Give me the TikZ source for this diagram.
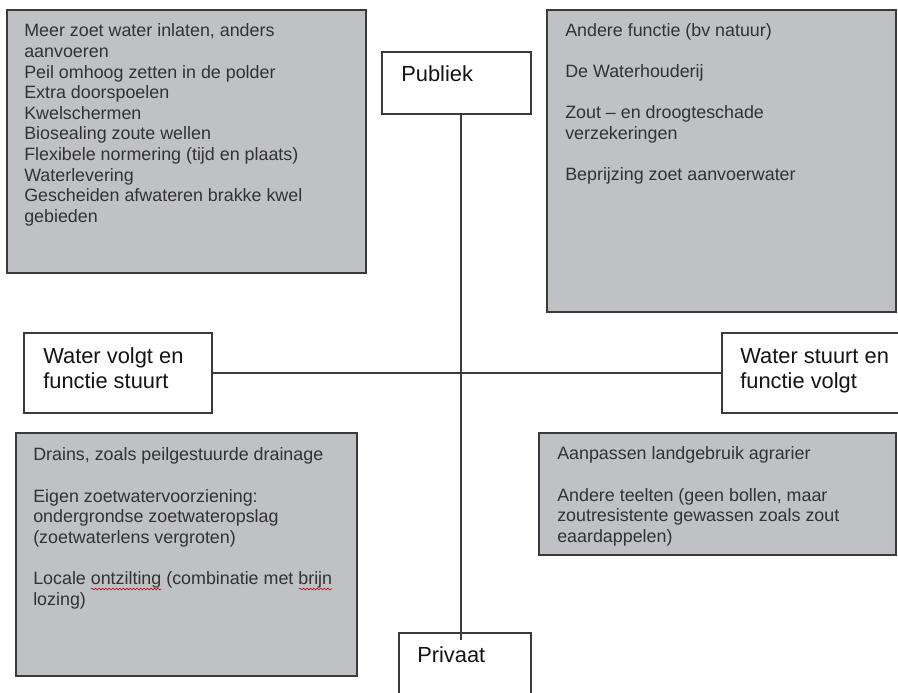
\documentclass[tikz,border=0pt]{standalone}
\usepackage{fontspec}
\setmainfont{Liberation Sans}
\usetikzlibrary{decorations.pathmorphing}
\definecolor{boxgrey}{RGB}{192,193,197}
\definecolor{edgegrey}{RGB}{58,58,58}
\definecolor{txtgrey}{RGB}{50,50,50}
\definecolor{txtblack}{RGB}{20,20,20}
\newcommand{\gstrut}{\rule{0pt}{10pt}}
\newcommand{\wstrut}{\rule{0pt}{12.5pt}}
\begin{document}
\begin{tikzpicture}[x=0.75pt,y=-0.75pt,
  greybox/.style={draw=edgegrey,fill=boxgrey,line width=1.1pt,inner sep=0pt,outer sep=0pt,anchor=north west},
  whitebox/.style={draw=edgegrey,fill=white,line width=1.1pt,inner sep=0pt,outer sep=0pt,anchor=north west},
  greytext/.style={anchor=north west,inner sep=0pt,align=left,text=txtgrey,font=\fontsize{13.4pt}{15.45pt}\selectfont},
  whitetext/.style={anchor=north west,inner sep=0pt,align=left,text=txtblack,font=\fontsize{16.4pt}{19.2pt}\selectfont},
  axisline/.style={draw=edgegrey,line width=1.1pt},
  squiggle/.style={draw=red!80!black,line width=0.45pt,decorate,decoration={snake,amplitude=0.6pt,segment length=2.6pt}}]
\useasboundingbox (0,0) rectangle (898,692);
% grey boxes
\node[greybox,minimum width=269.25pt,minimum height=197.25pt] (tl) at (7,10) {};
\node[greybox,minimum width=261.75pt,minimum height=226.5pt] (tr) at (547,10) {};
\node[greybox,minimum width=255.75pt,minimum height=182.25pt] (bl) at (16,433) {};
\node[greybox,minimum width=267.75pt,minimum height=91.5pt] (br) at (539,433) {};
% white boxes
\node[whitebox,minimum width=111.75pt,minimum height=46.5pt] (pub) at (382,52) {};
\node[whitebox,minimum width=99pt,minimum height=70pt] (priv) at (399,633) {};
\node[whitebox,minimum width=141pt,minimum height=60pt] (lw) at (24,333) {};
\node[whitebox,minimum width=141pt,minimum height=60pt] (rw) at (722,333) {};
% axes
\coordinate (axis) at (461,373);
\coordinate (axisbot) at (461,640);
\draw[axisline] (axis |- pub.south) -- (axisbot);
\draw[axisline] (lw.east) -- (rw.west);
% texts
\node[greytext] (tltext) at (24,23.2) {\gstrut Meer zoet water inlaten, anders\\aanvoeren\\Peil omhoog zetten in de polder\\Extra doorspoelen\\Kwelschermen\\Biosealing zoute wellen\\Flexibele normering (tijd en plaats)\\Waterlevering\\Gescheiden afwateren brakke kwel\\gebieden};
\node[greytext] (trtext) at (565,22.7) {\gstrut Andere functie (bv natuur)\\[15.45pt]De Waterhouderij\\[15.45pt]Zout – en droogteschade\\verzekeringen\\[15.45pt]Beprijzing zoet aanvoerwater};
\node[greytext] (bltext) at (33,447.2) {\gstrut Drains, zoals peilgestuurde drainage\\[15.45pt]Eigen zoetwatervoorziening:\\ondergrondse zoetwateropslag\\(zoetwaterlens vergroten)\\[15.45pt]Locale ontzilting (combinatie met brijn\\lozing)};
\node[greytext] (brtext) at (557,446.2) {\gstrut Aanpassen landgebruik agrarier\\[15.45pt]Andere teelten (geen bollen, maar\\zoutresistente gewassen zoals zout\\eaardappelen)};
\node[whitetext] (pubtext) at (401,64.8) {\wstrut Publiek};
\node[whitetext] (privtext) at (417,645.6) {\wstrut Privaat};
\node[whitetext] (lwtext) at (43,346.3) {\wstrut Water volgt en\\functie stuurt};
\node[whitetext] (rwtext) at (740,346.3) {\wstrut Water stuurt en\\functie volgt};
% spelling marks
\draw[squiggle] (91,589) -- (161,589);
\draw[squiggle] (299,589) -- (332,589);
\end{tikzpicture}
\end{document}
